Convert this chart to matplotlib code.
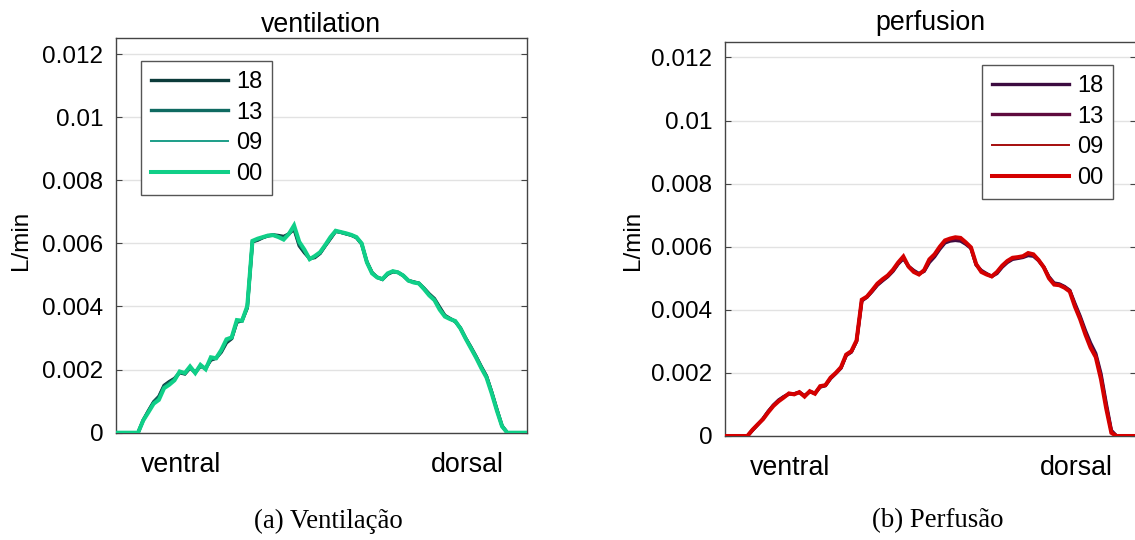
import numpy as np
import matplotlib
matplotlib.use('Agg')
import matplotlib.pyplot as plt

plt.rcParams['font.family'] = ['Liberation Sans', 'DejaVu Sans']

# Regional flow profiles along the ventral-dorsal axis, in mL/min (scaled to L/min below)
pos = np.arange(1, 81)
labels = ['18', '13', '09', '00']

vent_18 = [0, 0, 0, 0, 0, 0.40, 0.70, 0.98, 1.15, 1.50, 1.62, 1.72, 1.90, 1.86, 2.05, 1.92, 2.10, 2.05, 2.30, 2.36,
           2.55, 2.85, 2.98, 3.50, 3.55, 3.95, 6.05, 6.10, 6.18, 6.24, 6.27, 6.25, 6.22, 6.30, 6.45, 5.92,
           5.70, 5.52, 5.55, 5.68, 5.92, 6.15, 6.38, 6.35, 6.30, 6.26, 6.18, 5.98, 5.42, 5.08, 4.92, 4.86,
           5.02, 5.10, 5.08, 4.98, 4.82, 4.78, 4.74, 4.58, 4.40, 4.25, 3.98, 3.72, 3.62, 3.52, 3.32, 3.00,
           2.72, 2.42, 2.10, 1.80, 1.30, 0.75, 0.22, 0, 0, 0, 0, 0]
vent_13 = [0, 0, 0, 0, 0, 0.40, 0.68, 0.96, 1.12, 1.47, 1.58, 1.70, 1.92, 1.88, 2.07, 1.90, 2.12, 2.03, 2.33, 2.36,
           2.58, 2.90, 3.00, 3.53, 3.55, 3.98, 6.06, 6.12, 6.19, 6.24, 6.26, 6.22, 6.18, 6.30, 6.50, 5.96,
           5.75, 5.50, 5.58, 5.69, 5.93, 6.16, 6.39, 6.35, 6.31, 6.26, 6.19, 5.99, 5.41, 5.06, 4.93, 4.86,
           5.03, 5.11, 5.08, 4.98, 4.82, 4.77, 4.73, 4.56, 4.38, 4.22, 3.94, 3.70, 3.61, 3.53, 3.31, 2.99,
           2.70, 2.40, 2.07, 1.78, 1.28, 0.72, 0.21, 0, 0, 0, 0, 0]
vent_09 = [0, 0, 0, 0, 0, 0.39, 0.66, 0.94, 1.08, 1.44, 1.55, 1.68, 1.93, 1.89, 2.09, 1.89, 2.14, 2.02, 2.36, 2.36,
           2.60, 2.93, 3.01, 3.55, 3.55, 4.00, 6.07, 6.14, 6.20, 6.25, 6.26, 6.21, 6.15, 6.30, 6.54, 6.02,
           5.80, 5.49, 5.59, 5.70, 5.94, 6.17, 6.40, 6.36, 6.32, 6.27, 6.20, 6.00, 5.40, 5.05, 4.93, 4.87,
           5.04, 5.12, 5.08, 4.98, 4.82, 4.76, 4.73, 4.55, 4.36, 4.21, 3.92, 3.69, 3.60, 3.54, 3.30, 2.98,
           2.69, 2.39, 2.06, 1.76, 1.26, 0.71, 0.20, 0, 0, 0, 0, 0]
vent_00 = [0, 0, 0, 0, 0, 0.39, 0.65, 0.92, 1.04, 1.41, 1.52, 1.66, 1.94, 1.89, 2.10, 1.89, 2.15, 2.01, 2.39, 2.36,
           2.62, 2.96, 3.02, 3.57, 3.55, 4.01, 6.08, 6.15, 6.20, 6.25, 6.26, 6.20, 6.12, 6.30, 6.57, 6.05,
           5.80, 5.50, 5.60, 5.72, 5.95, 6.20, 6.40, 6.36, 6.32, 6.27, 6.20, 6.00, 5.40, 5.05, 4.92, 4.87,
           5.05, 5.12, 5.08, 4.98, 4.82, 4.76, 4.73, 4.55, 4.35, 4.20, 3.90, 3.68, 3.60, 3.54, 3.30, 2.98,
           2.68, 2.38, 2.05, 1.75, 1.25, 0.70, 0.20, 0, 0, 0, 0, 0]

perf_18 = [0, 0, 0, 0, 0, 0.18, 0.36, 0.55, 0.78, 0.98, 1.14, 1.25, 1.33, 1.34, 1.38, 1.28, 1.40, 1.36, 1.55, 1.60,
           1.82, 1.98, 2.15, 2.55, 2.66, 3.00, 4.28, 4.40, 4.58, 4.78, 4.92, 5.05, 5.22, 5.45, 5.62, 5.38,
           5.25, 5.15, 5.22, 5.50, 5.68, 5.92, 6.12, 6.18, 6.20, 6.18, 6.08, 5.95, 5.42, 5.25, 5.15, 5.06,
           5.15, 5.35, 5.50, 5.60, 5.63, 5.66, 5.72, 5.70, 5.56, 5.36, 5.05, 4.85, 4.82, 4.74, 4.62, 4.20,
           3.80, 3.35, 2.95, 2.62, 1.98, 1.05, 0.18, 0, 0, 0, 0, 0]
perf_13 = [0, 0, 0, 0, 0, 0.19, 0.36, 0.54, 0.77, 0.97, 1.12, 1.24, 1.34, 1.33, 1.39, 1.27, 1.41, 1.35, 1.56, 1.60,
           1.83, 1.99, 2.16, 2.56, 2.67, 3.01, 4.30, 4.41, 4.60, 4.80, 4.94, 5.07, 5.24, 5.47, 5.65, 5.37,
           5.22, 5.13, 5.24, 5.55, 5.72, 5.96, 6.16, 6.22, 6.25, 6.23, 6.11, 5.96, 5.44, 5.22, 5.13, 5.06,
           5.18, 5.38, 5.53, 5.63, 5.65, 5.68, 5.76, 5.73, 5.57, 5.35, 5.02, 4.82, 4.80, 4.72, 4.60, 4.15,
           3.75, 3.28, 2.88, 2.56, 1.89, 0.96, 0.14, 0, 0, 0, 0, 0]
perf_09 = [0, 0, 0, 0, 0, 0.20, 0.37, 0.53, 0.76, 0.96, 1.11, 1.23, 1.35, 1.32, 1.39, 1.26, 1.42, 1.34, 1.57, 1.61,
           1.84, 2.00, 2.17, 2.57, 2.68, 3.02, 4.31, 4.42, 4.61, 4.82, 4.96, 5.08, 5.26, 5.49, 5.67, 5.37,
           5.21, 5.12, 5.25, 5.58, 5.74, 5.98, 6.18, 6.24, 6.28, 6.26, 6.13, 5.97, 5.45, 5.21, 5.12, 5.06,
           5.19, 5.39, 5.54, 5.64, 5.66, 5.69, 5.78, 5.75, 5.57, 5.35, 5.01, 4.81, 4.79, 4.71, 4.59, 4.12,
           3.72, 3.25, 2.84, 2.53, 1.84, 0.92, 0.12, 0, 0, 0, 0, 0]
perf_00 = [0, 0, 0, 0, 0, 0.20, 0.37, 0.53, 0.75, 0.95, 1.10, 1.22, 1.35, 1.32, 1.39, 1.25, 1.42, 1.34, 1.58, 1.61,
           1.85, 2.00, 2.18, 2.58, 2.69, 3.03, 4.32, 4.42, 4.62, 4.83, 4.97, 5.09, 5.27, 5.50, 5.69, 5.37,
           5.20, 5.12, 5.26, 5.60, 5.76, 6.00, 6.20, 6.26, 6.30, 6.28, 6.14, 5.98, 5.45, 5.20, 5.12, 5.06,
           5.20, 5.40, 5.55, 5.65, 5.67, 5.70, 5.80, 5.76, 5.58, 5.35, 5.00, 4.80, 4.78, 4.70, 4.58, 4.10,
           3.70, 3.22, 2.80, 2.50, 1.80, 0.88, 0.10, 0, 0, 0, 0, 0]

vent_colors = ['#0b3b3a', '#0f6a61', '#1c9e88', '#10cf88']
perf_colors = ['#3c0b40', '#5e0a3e', '#a50d0d', '#d40000']
widths = [2.4, 2.4, 1.4, 2.9]

y_ticks = [0, 0.002, 0.004, 0.006, 0.008, 0.010, 0.012]
y_ticklabels = ['0', '0.002', '0.004', '0.006', '0.008', '0.01', '0.012']
x_ticks = [13.2, 68.3]
x_ticklabels = ['ventral', 'dorsal']

W, H = 1135, 540
fig = plt.figure(figsize=(W / 100, H / 100), dpi=100)

panels = [
    # left px, top px, bottom px, title, title baseline px, ylabel right edge px, caption, series, colors, legend anchor
    (115.7, 38.3, 432.7, 'ventilation', 31.7, 32, '(a) Ventilação',
     [vent_18, vent_13, vent_09, vent_00], vent_colors, (0.0616, 0.9425)),
    (725.0, 41.7, 436.0, 'perfusion', 30.0, 644, '(b) Perfusão',
     [perf_18, perf_13, perf_09, perf_00], perf_colors, (0.625, 0.941)),
]
ax_w = 410.8

for left, top, bottom, title, title_y, ylab_x, caption, series, colors, anchor in panels:
    ax = fig.add_axes([left / W, 1 - bottom / H, ax_w / W, (bottom - top) / H])
    for vals, c, lw, lab in zip(series, colors, widths, labels):
        ax.plot(pos, np.array(vals) * 1e-3, color=c, lw=lw, label=lab,
                solid_joinstyle='miter', zorder=3)
    ax.set_xlim(0.7, 79.7)
    ax.set_ylim(0, 0.0125)
    ax.set_yticks(y_ticks)
    ax.set_yticklabels(y_ticklabels)
    ax.set_xticks(x_ticks)
    ax.set_xticklabels(x_ticklabels)
    ax.tick_params(axis='y', direction='in', length=4, width=0.8, color='#444444',
                   left=True, right=True, labelsize=17.5, pad=9)
    ax.tick_params(axis='x', length=0, labelsize=19.3, pad=14)
    ax.grid(axis='y', color='#e2e2e2', lw=1.0, zorder=0)
    ax.set_axisbelow(True)
    for s in ax.spines.values():
        s.set_color('#444444')
        s.set_linewidth(1.0)
    ax.set_ylabel('L/min', fontsize=17.5)
    ax.yaxis.set_label_coords((ylab_x - left) / ax_w, (bottom - 240) / (bottom - top))
    fig.text((left + ax_w / 2) / W, 1 - title_y / H, title, ha='center', va='baseline', fontsize=19.3)
    fig.text((left + ax_w / 2 + 7) / W, 1 - 521 / H, caption, ha='center', va='center',
             fontsize=19.3, family=['Liberation Serif', 'DejaVu Serif'])
    leg = ax.legend(loc='upper left', bbox_to_anchor=anchor, borderaxespad=0,
                    fontsize=17, handlelength=3.26, handletextpad=0.35, labelspacing=0.37,
                    borderpad=0.42, fancybox=False, framealpha=1, edgecolor='#555555')
    leg.get_frame().set_linewidth(1.0)

fig.savefig('out.png', dpi=100)
